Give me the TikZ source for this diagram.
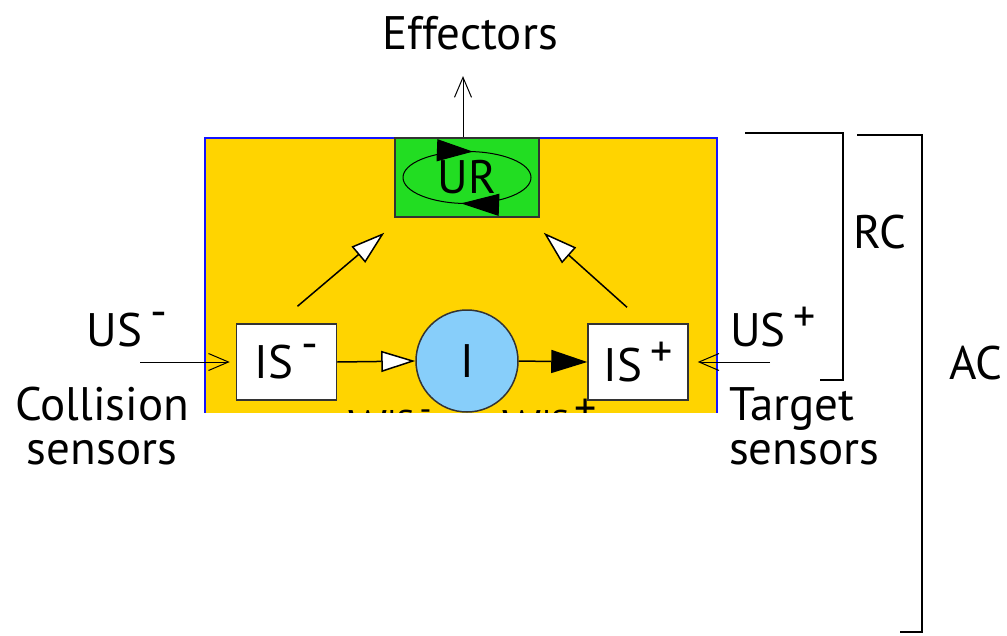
\documentclass[tikz,border=0pt]{standalone}
\usepackage{fontspec}
\setmainfont{PT Sans}
\usepackage{tikz}
\usetikzlibrary{arrows.meta}
\usetikzlibrary{decorations.markings}
\usetikzlibrary{positioning}

\definecolor{boxyellow}{HTML}{FFD400}
\definecolor{urgreen}{HTML}{22DD22}
\definecolor{iblue}{HTML}{87CEFA}
\definecolor{edgeblue}{HTML}{1414FF}

\newcommand{\upplus}{\,\raisebox{0.32em}{\fontsize{44}{44}\selectfont +}}
\newcommand{\upminus}{\,\raisebox{0.4em}{-}}

\begin{document}
\begin{tikzpicture}[x=1pt,y=-1pt,
    txt/.style={font=\fontsize{47}{44}\selectfont, inner sep=0pt},
    sensorbox/.style={txt, draw=black!80, line width=1.5pt, fill=white,
        minimum width=100pt, minimum height=76pt},
    whitetip/.style={-{Triangle[fill=white,length=34pt,width=21pt]}, line width=1.5pt},
    blacktip/.style={-{Triangle[length=36pt,width=23pt]}, line width=1.5pt},
    barb/.style={-{Straight Barb[length=20pt,width=17pt]}, line width=1pt}]
        \useasboundingbox (0,0) rectangle (1007,635);

        % the controller, cut off at its lower edge
        \begin{scope}
            \clip (0,0) rectangle (1007,412);
            \fill[boxyellow] (205,138) rectangle (717,470);
            \draw[edgeblue,line width=2pt] (205,470) -- (205,138) -- (717,138) -- (717,470);
            \node[txt,anchor=base] (wminus) at (390,443) {W\textsuperscript{IS\upminus}};
            \node[txt,anchor=base] (wplus) at (550,443) {W\textsuperscript{IS\upplus}};
        \end{scope}

        \node[txt, draw=black!80, line width=1.5pt, fill=urgreen,
            minimum width=144pt, minimum height=79pt] (UR) at (467,177.5) {};
        \draw[line width=1pt, postaction={decorate}, decoration={markings,
            mark=at position 0.27 with {\arrow{Triangle[length=38pt,width=22pt]}},
            mark=at position 0.77 with {\arrow{Triangle[length=36pt,width=22pt]}}}]
            (UR.center) ellipse (64 and 26);
        \node[txt] at (UR.center) {UR};

        \node[txt] (eff) at (470,33) {Effectors};
        \draw[barb,shorten >=26pt] ([xshift=-4pt]UR.north) -- ([xshift=-4pt]UR.north |- eff.south);

        \node[sensorbox] (ISm) at (286.5,362) {IS\upminus};
        \node[circle, draw=black!80, line width=1.5pt, fill=iblue, minimum size=102pt,
            inner sep=0pt, font=\fontsize{47}{40}\selectfont] (I) at (467,361) {I};
        \node[sensorbox] (ISp) at (638,362) {IS\upplus};

        \draw[whitetip] (ISm.east) -- (I.west);
        \draw[blacktip] (I.east) -- (ISp.west);
        \draw[whitetip] ([shift={(11pt,17pt)}]ISm.north) -- ([shift={(-10pt,-15pt)}]UR.south west);
        \draw[whitetip] ([shift={(-11pt,16pt)}]ISp.north) -- ([shift={(4pt,-15pt)}]UR.south east);

        % inputs
        \node[txt] (USm) at (127,330) {US\upminus};
        \coordinate (usmin) at (140,362);
        \draw[barb,shorten >=6pt] (usmin) -- (ISm.west);
        \node[txt,align=center] (coll) at (102,426) {Collision\\sensors};

        \node[txt] (USp) at (773,327) {US\upplus};
        \coordinate (uspin) at (770,362);
        \draw[barb,shorten >=9pt] (uspin) -- (ISp.east);
        \node[txt,align=left,anchor=west] (targ) at (729,426) {Target\\sensors};

        % brackets
        \draw[line width=2.5pt] (745,133) -- (843,133) -- (843,380) -- (820,380);
        \node[txt] (RC) at (880,232) {RC};
        \draw[line width=2.5pt] (857,135) -- (922,135) -- (922,632) -- (900,632);
        \node[txt] (AC) at (976,363) {AC};
    \end{tikzpicture}
\end{document}
